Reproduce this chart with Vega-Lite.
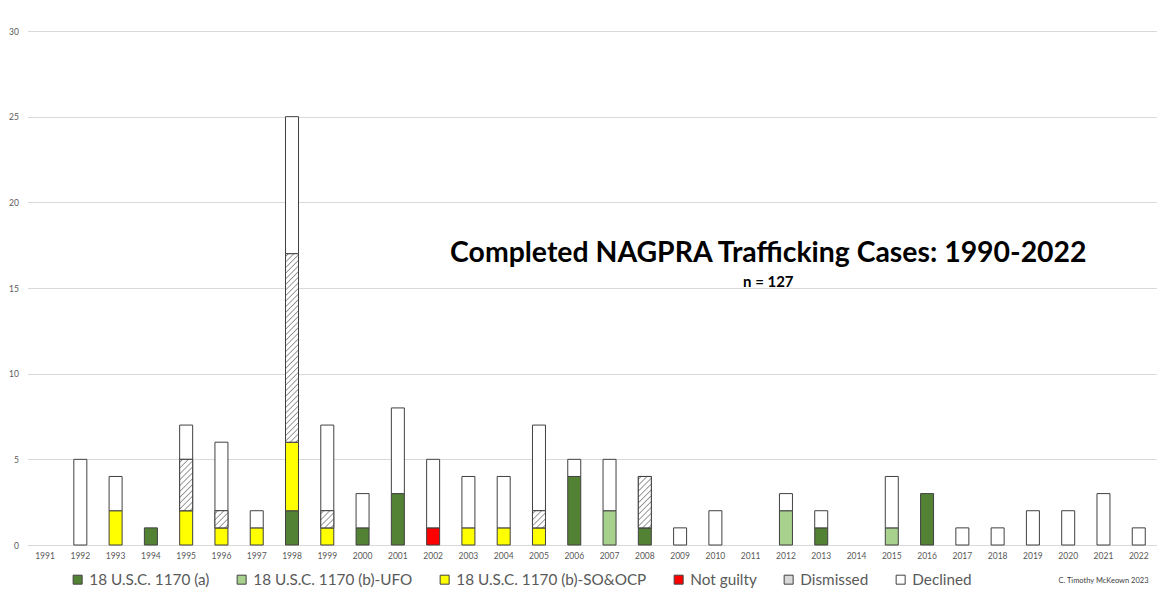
{
  "$schema": "https://vega.github.io/schema/vega-lite/v6.json",
  "width": 1129,
  "height": 514,
  "autosize": {"type": "none"},
  "padding": {"left": 27.4, "top": 31, "right": 7.6, "bottom": 45},
  "background": "white",
  "config": {"view": {"stroke": null}, "font": "Lato"},
  "data": {
    "values": [
      {"year": "1992", "cat": "Declined", "count": 5},
      {"year": "1993", "cat": "18 U.S.C. 1170 (b)-SO&OCP", "count": 2},
      {"year": "1993", "cat": "Declined", "count": 2},
      {"year": "1994", "cat": "18 U.S.C. 1170 (a)", "count": 1},
      {"year": "1995", "cat": "18 U.S.C. 1170 (b)-SO&OCP", "count": 2},
      {"year": "1995", "cat": "Dismissed", "count": 3},
      {"year": "1995", "cat": "Declined", "count": 2},
      {"year": "1996", "cat": "18 U.S.C. 1170 (b)-SO&OCP", "count": 1},
      {"year": "1996", "cat": "Dismissed", "count": 1},
      {"year": "1996", "cat": "Declined", "count": 4},
      {"year": "1997", "cat": "18 U.S.C. 1170 (b)-SO&OCP", "count": 1},
      {"year": "1997", "cat": "Declined", "count": 1},
      {"year": "1998", "cat": "18 U.S.C. 1170 (a)", "count": 2},
      {"year": "1998", "cat": "18 U.S.C. 1170 (b)-SO&OCP", "count": 4},
      {"year": "1998", "cat": "Dismissed", "count": 11},
      {"year": "1998", "cat": "Declined", "count": 8},
      {"year": "1999", "cat": "18 U.S.C. 1170 (b)-SO&OCP", "count": 1},
      {"year": "1999", "cat": "Dismissed", "count": 1},
      {"year": "1999", "cat": "Declined", "count": 5},
      {"year": "2000", "cat": "18 U.S.C. 1170 (a)", "count": 1},
      {"year": "2000", "cat": "Declined", "count": 2},
      {"year": "2001", "cat": "18 U.S.C. 1170 (a)", "count": 3},
      {"year": "2001", "cat": "Declined", "count": 5},
      {"year": "2002", "cat": "Not guilty", "count": 1},
      {"year": "2002", "cat": "Declined", "count": 4},
      {"year": "2003", "cat": "18 U.S.C. 1170 (b)-SO&OCP", "count": 1},
      {"year": "2003", "cat": "Declined", "count": 3},
      {"year": "2004", "cat": "18 U.S.C. 1170 (b)-SO&OCP", "count": 1},
      {"year": "2004", "cat": "Declined", "count": 3},
      {"year": "2005", "cat": "18 U.S.C. 1170 (b)-SO&OCP", "count": 1},
      {"year": "2005", "cat": "Dismissed", "count": 1},
      {"year": "2005", "cat": "Declined", "count": 5},
      {"year": "2006", "cat": "18 U.S.C. 1170 (a)", "count": 4},
      {"year": "2006", "cat": "Declined", "count": 1},
      {"year": "2007", "cat": "18 U.S.C. 1170 (b)-UFO", "count": 2},
      {"year": "2007", "cat": "Declined", "count": 3},
      {"year": "2008", "cat": "18 U.S.C. 1170 (a)", "count": 1},
      {"year": "2008", "cat": "Dismissed", "count": 3},
      {"year": "2009", "cat": "Declined", "count": 1},
      {"year": "2010", "cat": "Declined", "count": 2},
      {"year": "2012", "cat": "18 U.S.C. 1170 (b)-UFO", "count": 2},
      {"year": "2012", "cat": "Declined", "count": 1},
      {"year": "2013", "cat": "18 U.S.C. 1170 (a)", "count": 1},
      {"year": "2013", "cat": "Declined", "count": 1},
      {"year": "2015", "cat": "18 U.S.C. 1170 (b)-UFO", "count": 1},
      {"year": "2015", "cat": "Declined", "count": 3},
      {"year": "2016", "cat": "18 U.S.C. 1170 (a)", "count": 3},
      {"year": "2017", "cat": "Declined", "count": 1},
      {"year": "2018", "cat": "Declined", "count": 1},
      {"year": "2019", "cat": "Declined", "count": 2},
      {"year": "2020", "cat": "Declined", "count": 2},
      {"year": "2021", "cat": "Declined", "count": 3},
      {"year": "2022", "cat": "Declined", "count": 1}
    ]
  },
  "layer": [
    {
      "transform": [
        {"calculate": "indexof(['18 U.S.C. 1170 (a)','18 U.S.C. 1170 (b)-UFO','18 U.S.C. 1170 (b)-SO&OCP','Not guilty','Dismissed','Declined'], datum.cat)", "as": "ord"},
        {"stack": "count", "groupby": ["year"], "sort": [{"field": "ord", "order": "ascending"}], "as": ["y0", "y1"]}
      ],
      "encoding": {
        "x": {
          "field": "year",
          "type": "nominal",
          "scale": {
            "domain": ["1991","1992","1993","1994","1995","1996","1997","1998","1999","2000","2001","2002","2003","2004","2005","2006","2007","2008","2009","2010","2011","2012","2013","2014","2015","2016","2017","2018","2019","2020","2021","2022"],
            "paddingInner": 0,
            "paddingOuter": 0
          },
          "axis": {
            "title": null,
            "labelAngle": 0,
            "labelFontSize": 8.5,
            "labelColor": "#595959",
            "labelFont": "Lato",
            "ticks": false,
            "domainColor": "#d9d9d9",
            "domainWidth": 1,
            "labelPadding": 6,
            "grid": false
          }
        },
        "y": {
          "field": "y0",
          "type": "quantitative",
          "scale": {"domain": [0, 30], "nice": false},
          "axis": {
            "title": null,
            "values": [0, 5, 10, 15, 20, 25, 30],
            "labelFontSize": 8.5,
            "labelColor": "#595959",
            "labelFont": "Lato",
            "ticks": false,
            "domain": false,
            "grid": true,
            "gridColor": "#d9d9d9",
            "gridWidth": 1,
            "labelPadding": 9
          }
        },
        "y2": {"field": "y1"}
      },
      "layer": [
        {
          "mark": {"type": "bar", "size": 13, "stroke": "#404040", "strokeWidth": 1},
          "encoding": {
            "fill": {
              "field": "cat",
              "type": "nominal",
              "scale": {
                "domain": ["18 U.S.C. 1170 (a)", "18 U.S.C. 1170 (b)-UFO", "18 U.S.C. 1170 (b)-SO&OCP", "Not guilty", "Dismissed", "Declined"],
                "range": ["#548235", "#a9d18e", "#ffff00", "#ff0000", "#d9d9d9", "#ffffff"]
              },
              "legend": {
                "title": null,
                "orient": "none",
                "legendX": 42.6,
                "legendY": 541,
                "direction": "horizontal",
                "symbolType": "square",
                "symbolSize": 81,
                "symbolStrokeColor": "#404040",
                "symbolStrokeWidth": 1,
                "labelFontSize": 15.3,
                "labelFont": "Lato",
                "labelColor": "#595959",
                "labelLimit": 400,
                "labelOffset": 4,
                "columnPadding": 24,
                "padding": 0,
                "encode": {
                  "symbols": {
                    "update": {
                      "stroke": {"value": "#404040"},
                      "strokeWidth": {"value": 1},
                      "fill": {"signal": "datum.label === 'Dismissed' ? {gradient: 'linear', x1: 0, y1: 0, x2: 1, y2: 1, stops: [{offset: 0.12, color: '#ffffff'}, {offset: 0.1667, color: '#8c8c8c'}, {offset: 0.21, color: '#ffffff'}, {offset: 0.45, color: '#ffffff'}, {offset: 0.5, color: '#8c8c8c'}, {offset: 0.55, color: '#ffffff'}, {offset: 0.79, color: '#ffffff'}, {offset: 0.8333, color: '#8c8c8c'}, {offset: 0.88, color: '#ffffff'}]} : scale('fill', datum.value)"}
                    }
                  }
                }
              }
            }
          }
        },
        {
          "transform": [{"filter": "datum.cat == 'Dismissed' && datum.count == 1"}],
          "mark": {
            "type": "bar", "size": 13, "stroke": "#404040", "strokeWidth": 1,
            "fill": {
              "gradient": "linear", "x1": 0, "y1": 0, "x2": 0.8469, "y2": 1.1162,
              "stops": [
                {"offset": 0.06, "color": "#ffffff"}, {"offset": 0.1, "color": "#8c8c8c"}, {"offset": 0.14, "color": "#ffffff"},
                {"offset": 0.26, "color": "#ffffff"}, {"offset": 0.3, "color": "#8c8c8c"}, {"offset": 0.34, "color": "#ffffff"},
                {"offset": 0.46, "color": "#ffffff"}, {"offset": 0.5, "color": "#8c8c8c"}, {"offset": 0.54, "color": "#ffffff"},
                {"offset": 0.66, "color": "#ffffff"}, {"offset": 0.7, "color": "#8c8c8c"}, {"offset": 0.74, "color": "#ffffff"},
                {"offset": 0.86, "color": "#ffffff"}, {"offset": 0.9, "color": "#8c8c8c"}, {"offset": 0.94, "color": "#ffffff"}
              ]
            }
          }
        },
        {
          "transform": [{"filter": "datum.cat == 'Dismissed' && datum.count == 3"}],
          "mark": {
            "type": "bar", "size": 13, "stroke": "#404040", "strokeWidth": 1,
            "fill": {
              "gradient": "linear", "x1": 0, "y1": 0, "x2": 0.2978, "y2": 1.1776,
              "stops": [
                {"offset": 0.0265, "color": "#ffffff"}, {"offset": 0.0455, "color": "#8c8c8c"}, {"offset": 0.0645, "color": "#ffffff"},
                {"offset": 0.1174, "color": "#ffffff"}, {"offset": 0.1364, "color": "#8c8c8c"}, {"offset": 0.1554, "color": "#ffffff"},
                {"offset": 0.2083, "color": "#ffffff"}, {"offset": 0.2273, "color": "#8c8c8c"}, {"offset": 0.2463, "color": "#ffffff"},
                {"offset": 0.2992, "color": "#ffffff"}, {"offset": 0.3182, "color": "#8c8c8c"}, {"offset": 0.3372, "color": "#ffffff"},
                {"offset": 0.3901, "color": "#ffffff"}, {"offset": 0.4091, "color": "#8c8c8c"}, {"offset": 0.4281, "color": "#ffffff"},
                {"offset": 0.481, "color": "#ffffff"}, {"offset": 0.5, "color": "#8c8c8c"}, {"offset": 0.519, "color": "#ffffff"},
                {"offset": 0.5719, "color": "#ffffff"}, {"offset": 0.5909, "color": "#8c8c8c"}, {"offset": 0.6099, "color": "#ffffff"},
                {"offset": 0.6628, "color": "#ffffff"}, {"offset": 0.6818, "color": "#8c8c8c"}, {"offset": 0.7008, "color": "#ffffff"},
                {"offset": 0.7537, "color": "#ffffff"}, {"offset": 0.7727, "color": "#8c8c8c"}, {"offset": 0.7917, "color": "#ffffff"},
                {"offset": 0.8446, "color": "#ffffff"}, {"offset": 0.8636, "color": "#8c8c8c"}, {"offset": 0.8826, "color": "#ffffff"},
                {"offset": 0.9355, "color": "#ffffff"}, {"offset": 0.9545, "color": "#8c8c8c"}, {"offset": 0.9735, "color": "#ffffff"}
              ]
            }
          }
        },
        {
          "transform": [{"filter": "datum.cat == 'Dismissed' && datum.count == 11"}],
          "mark": {
            "type": "bar", "size": 13, "stroke": "#404040", "strokeWidth": 1,
            "fill": {
              "gradient": "linear", "x1": 0, "y1": 0, "x2": 0.07339, "y2": 1.06393,
              "stops": [
                {"offset": 0.0079, "color": "#ffffff"}, {"offset": 0.0139, "color": "#8c8c8c"}, {"offset": 0.0199, "color": "#ffffff"},
                {"offset": 0.0357, "color": "#ffffff"}, {"offset": 0.0417, "color": "#8c8c8c"}, {"offset": 0.0477, "color": "#ffffff"},
                {"offset": 0.0634, "color": "#ffffff"}, {"offset": 0.0694, "color": "#8c8c8c"}, {"offset": 0.0754, "color": "#ffffff"},
                {"offset": 0.0912, "color": "#ffffff"}, {"offset": 0.0972, "color": "#8c8c8c"}, {"offset": 0.1032, "color": "#ffffff"},
                {"offset": 0.119, "color": "#ffffff"}, {"offset": 0.125, "color": "#8c8c8c"}, {"offset": 0.131, "color": "#ffffff"},
                {"offset": 0.1468, "color": "#ffffff"}, {"offset": 0.1528, "color": "#8c8c8c"}, {"offset": 0.1588, "color": "#ffffff"},
                {"offset": 0.1746, "color": "#ffffff"}, {"offset": 0.1806, "color": "#8c8c8c"}, {"offset": 0.1866, "color": "#ffffff"},
                {"offset": 0.2023, "color": "#ffffff"}, {"offset": 0.2083, "color": "#8c8c8c"}, {"offset": 0.2143, "color": "#ffffff"},
                {"offset": 0.2301, "color": "#ffffff"}, {"offset": 0.2361, "color": "#8c8c8c"}, {"offset": 0.2421, "color": "#ffffff"},
                {"offset": 0.2579, "color": "#ffffff"}, {"offset": 0.2639, "color": "#8c8c8c"}, {"offset": 0.2699, "color": "#ffffff"},
                {"offset": 0.2857, "color": "#ffffff"}, {"offset": 0.2917, "color": "#8c8c8c"}, {"offset": 0.2977, "color": "#ffffff"},
                {"offset": 0.3134, "color": "#ffffff"}, {"offset": 0.3194, "color": "#8c8c8c"}, {"offset": 0.3254, "color": "#ffffff"},
                {"offset": 0.3412, "color": "#ffffff"}, {"offset": 0.3472, "color": "#8c8c8c"}, {"offset": 0.3532, "color": "#ffffff"},
                {"offset": 0.369, "color": "#ffffff"}, {"offset": 0.375, "color": "#8c8c8c"}, {"offset": 0.381, "color": "#ffffff"},
                {"offset": 0.3968, "color": "#ffffff"}, {"offset": 0.4028, "color": "#8c8c8c"}, {"offset": 0.4088, "color": "#ffffff"},
                {"offset": 0.4246, "color": "#ffffff"}, {"offset": 0.4306, "color": "#8c8c8c"}, {"offset": 0.4366, "color": "#ffffff"},
                {"offset": 0.4523, "color": "#ffffff"}, {"offset": 0.4583, "color": "#8c8c8c"}, {"offset": 0.4643, "color": "#ffffff"},
                {"offset": 0.4801, "color": "#ffffff"}, {"offset": 0.4861, "color": "#8c8c8c"}, {"offset": 0.4921, "color": "#ffffff"},
                {"offset": 0.5079, "color": "#ffffff"}, {"offset": 0.5139, "color": "#8c8c8c"}, {"offset": 0.5199, "color": "#ffffff"},
                {"offset": 0.5357, "color": "#ffffff"}, {"offset": 0.5417, "color": "#8c8c8c"}, {"offset": 0.5477, "color": "#ffffff"},
                {"offset": 0.5634, "color": "#ffffff"}, {"offset": 0.5694, "color": "#8c8c8c"}, {"offset": 0.5754, "color": "#ffffff"},
                {"offset": 0.5912, "color": "#ffffff"}, {"offset": 0.5972, "color": "#8c8c8c"}, {"offset": 0.6032, "color": "#ffffff"},
                {"offset": 0.619, "color": "#ffffff"}, {"offset": 0.625, "color": "#8c8c8c"}, {"offset": 0.631, "color": "#ffffff"},
                {"offset": 0.6468, "color": "#ffffff"}, {"offset": 0.6528, "color": "#8c8c8c"}, {"offset": 0.6588, "color": "#ffffff"},
                {"offset": 0.6746, "color": "#ffffff"}, {"offset": 0.6806, "color": "#8c8c8c"}, {"offset": 0.6866, "color": "#ffffff"},
                {"offset": 0.7023, "color": "#ffffff"}, {"offset": 0.7083, "color": "#8c8c8c"}, {"offset": 0.7143, "color": "#ffffff"},
                {"offset": 0.7301, "color": "#ffffff"}, {"offset": 0.7361, "color": "#8c8c8c"}, {"offset": 0.7421, "color": "#ffffff"},
                {"offset": 0.7579, "color": "#ffffff"}, {"offset": 0.7639, "color": "#8c8c8c"}, {"offset": 0.7699, "color": "#ffffff"},
                {"offset": 0.7857, "color": "#ffffff"}, {"offset": 0.7917, "color": "#8c8c8c"}, {"offset": 0.7977, "color": "#ffffff"},
                {"offset": 0.8134, "color": "#ffffff"}, {"offset": 0.8194, "color": "#8c8c8c"}, {"offset": 0.8254, "color": "#ffffff"},
                {"offset": 0.8412, "color": "#ffffff"}, {"offset": 0.8472, "color": "#8c8c8c"}, {"offset": 0.8532, "color": "#ffffff"},
                {"offset": 0.869, "color": "#ffffff"}, {"offset": 0.875, "color": "#8c8c8c"}, {"offset": 0.881, "color": "#ffffff"},
                {"offset": 0.8968, "color": "#ffffff"}, {"offset": 0.9028, "color": "#8c8c8c"}, {"offset": 0.9088, "color": "#ffffff"},
                {"offset": 0.9246, "color": "#ffffff"}, {"offset": 0.9306, "color": "#8c8c8c"}, {"offset": 0.9366, "color": "#ffffff"},
                {"offset": 0.9523, "color": "#ffffff"}, {"offset": 0.9583, "color": "#8c8c8c"}, {"offset": 0.9643, "color": "#ffffff"},
                {"offset": 0.9801, "color": "#ffffff"}, {"offset": 0.9861, "color": "#8c8c8c"}, {"offset": 0.9921, "color": "#ffffff"}
              ]
            }
          }
        }
      ]
    },
    {
      "data": {"values": [{"t": "Completed NAGPRA Trafficking Cases: 1990-2022"}]},
      "mark": {"type": "text", "font": "Lato", "fontWeight": "bold", "fontSize": 28.4, "color": "#000000", "align": "center", "baseline": "alphabetic"},
      "encoding": {
        "text": {"field": "t"},
        "x": {"datum": "2011", "bandPosition": 1},
        "y": {"datum": 16.5}
      }
    },
    {
      "data": {"values": [{"t": "n = 127"}]},
      "mark": {"type": "text", "font": "Lato", "fontWeight": "bold", "fontSize": 15, "color": "#000000", "align": "center", "baseline": "alphabetic"},
      "encoding": {
        "text": {"field": "t"},
        "x": {"datum": "2011", "bandPosition": 1},
        "y": {"datum": 15.05}
      }
    },
    {
      "data": {"values": [{"t": "C. Timothy McKeown 2023"}]},
      "mark": {"type": "text", "font": "Lato", "fontSize": 7.5, "color": "#404040", "align": "center", "baseline": "alphabetic"},
      "encoding": {
        "text": {"field": "t"},
        "x": {"datum": "2021"},
        "y": {"datum": -2.2}
      }
    }
  ]
}
